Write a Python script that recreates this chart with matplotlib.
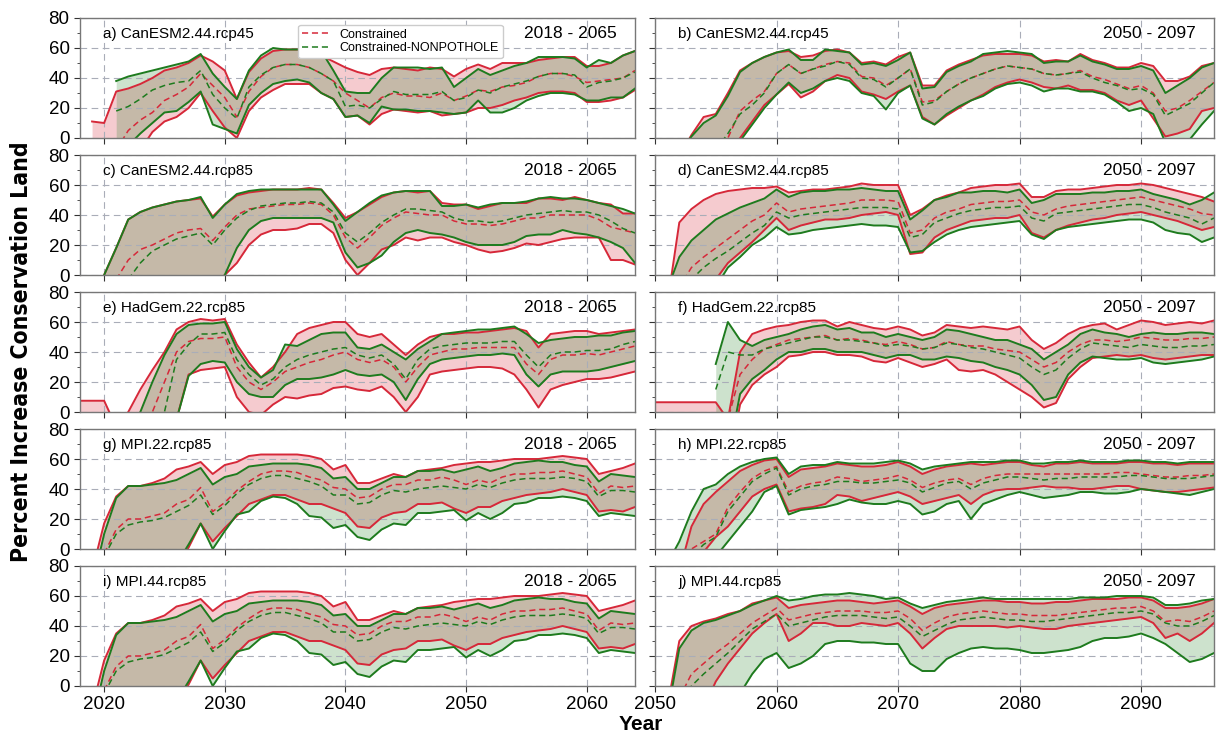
import numpy as np
import matplotlib.pyplot as plt
from matplotlib.ticker import MultipleLocator

plt.rcParams["font.family"] = ["Liberation Sans", "DejaVu Sans"]

RED = "#d62839"
GREEN = "#1e7b1e"

LEFT_YEARS = np.arange(2018, 2065)
RIGHT_YEARS = np.arange(2050, 2097)

# each series: (first year, values); negative values run below the axis
# a) CanESM2.44.rcp45, 2018 - 2065
a_red_hi = (2019, [11, 10, 31, 33, 36, 40, 45, 47, 50, 55, 51, 45, 26, 44, 53, 58, 59, 59, 58, 55, 51, 47, 44, 42, 46, 47, 46, 45, 47, 46, 41, 46, 49, 46, 50, 50, 50, 52, 53, 54, 54, 48, 48, 50, 55, 58])
a_red_md = (2021, [-8, 5, 12, 17, 25, 29, 34, 43, 35, 27, 14, 31, 41, 47, 49, 49, 47, 43, 38, 30, 25, 20, 27, 30, 28, 28, 27, 30, 25, 28, 32, 31, 34, 35, 37, 41, 43, 43, 41, 37, 38, 39, 40, 45])
a_red_lo = (2019, [-40, -40, -30, -20, -8, 4, 11, 14, 20, 30, 18, 7, 0, 18, 27, 32, 36, 36, 36, 30, 26, 14, 15, 9, 16, 19, 18, 17, 18, 15, 16, 17, 20, 20, 22, 25, 27, 30, 31, 31, 30, 24, 24, 25, 27, 32])
a_grn_hi = (2021, [38, 41, 43, 45, 47, 49, 51, 56, 43, 34, 26, 45, 55, 60, 59, 59, 59, 58, 45, 31, 30, 30, 40, 47, 47, 47, 46, 47, 34, 40, 46, 42, 45, 48, 50, 54, 54, 54, 53, 47, 52, 50, 55, 58])
a_grn_md = (2021, [18, 21, 26, 32, 35, 37, 38, 45, 29, 20, 13, 34, 42, 47, 49, 49, 47, 43, 38, 21, 22, 20, 26, 31, 29, 29, 29, 31, 25, 27, 32, 30, 34, 36, 38, 41, 43, 43, 42, 34, 37, 38, 40, 44])
a_grn_lo = (2021, [-20, -5, 3, 10, 17, 18, 24, 31, 9, 6, 3, 22, 30, 36, 38, 39, 37, 30, 26, 14, 15, 10, 21, 19, 19, 18, 18, 17, 16, 17, 25, 17, 17, 20, 25, 28, 30, 30, 29, 25, 25, 27, 27, 33])

# b) CanESM2.44.rcp45, 2050 - 2097
b_red_hi = (2052, [-12, 2, 14, 16, 30, 45, 50, 54, 57, 58, 54, 55, 58, 59, 57, 50, 51, 49, 54, 57, 35, 35, 45, 49, 52, 55, 56, 56, 56, 55, 51, 52, 51, 56, 52, 50, 47, 47, 50, 48, 38, 38, 41, 48, 50])
b_red_md = (2055, [-10, 0, 18, 25, 31, 43, 49, 43, 46, 49, 51, 50, 41, 40, 35, 40, 46, 24, 25, 31, 36, 40, 43, 46, 48, 47, 46, 43, 42, 43, 45, 41, 39, 36, 33, 35, 30, 18, 20, 25, 31, 37])
b_red_lo = (2052, [-45, -38, -30, -22, -11, 0, 11, 22, 29, 36, 27, 31, 38, 42, 40, 31, 29, 26, 31, 35, 14, 9, 15, 20, 25, 29, 34, 37, 39, 37, 34, 33, 35, 32, 32, 30, 25, 22, 25, 13, 1, 3, 6, 18, 20])
b_grn_hi = (2052, [-10, 1, 10, 15, 28, 44, 50, 54, 57, 59, 52, 52, 59, 58, 57, 49, 50, 48, 52, 57, 33, 34, 44, 48, 51, 56, 57, 58, 57, 56, 50, 51, 51, 55, 51, 49, 46, 46, 48, 45, 30, 35, 40, 47, 50])
b_grn_md = (2055, [-8, 3, 16, 22, 30, 43, 49, 43, 46, 48, 51, 49, 40, 39, 34, 40, 46, 22, 24, 31, 36, 40, 43, 46, 48, 47, 46, 43, 42, 43, 44, 40, 37, 35, 32, 33, 29, 15, 19, 23, 30, 37])
b_grn_lo = (2052, [-50, -40, -30, -22, -12, -2, 9, 20, 29, 37, 30, 33, 38, 40, 38, 30, 28, 19, 30, 35, 13, 9, 16, 21, 25, 28, 33, 36, 37, 35, 31, 33, 33, 31, 31, 29, 24, 18, 20, 16, -3, -5, -1, 9, 18])

# c) CanESM2.44.rcp85, 2018 - 2065
c_red_hi = (2019, [-20, 0, 18, 37, 42, 45, 47, 49, 50, 51, 39, 47, 53, 55, 56, 57, 57, 57, 58, 57, 48, 38, 42, 47, 52, 55, 56, 55, 56, 48, 47, 47, 44, 46, 48, 48, 48, 51, 51, 50, 52, 50, 48, 47, 41, 41])
c_red_md = (2021, [-3, 10, 17, 20, 24, 28, 30, 31, 23, 32, 40, 44, 45, 46, 47, 47, 48, 47, 40, 25, 18, 25, 33, 38, 42, 41, 40, 40, 36, 34, 34, 33, 34, 36, 38, 38, 40, 40, 40, 40, 37, 32, 30, 28])
c_red_lo = (2019, [-60, -55, -50, -45, -40, -35, -30, -25, -20, -15, -10, 0, 8, 20, 27, 30, 30, 31, 34, 34, 28, 10, 0, 8, 17, 20, 25, 23, 25, 25, 22, 20, 17, 15, 16, 18, 21, 20, 22, 24, 25, 25, 25, 10, 10, 7])
c_grn_hi = (2019, [-20, 0, 18, 37, 42, 45, 47, 49, 50, 52, 38, 47, 54, 56, 57, 57, 57, 57, 57, 57, 47, 36, 42, 48, 53, 55, 56, 56, 56, 46, 46, 47, 45, 47, 48, 48, 49, 51, 52, 51, 51, 50, 48, 46, 44, 41])
c_grn_md = (2022, [-3, 8, 16, 20, 24, 26, 28, 20, 30, 38, 43, 46, 47, 48, 48, 49, 48, 42, 28, 22, 28, 35, 40, 44, 44, 43, 42, 38, 36, 36, 35, 36, 38, 40, 41, 42, 43, 42, 42, 40, 36, 31, 28])
c_grn_lo = (2019, [-60, -55, -50, -45, -40, -35, -30, -25, -20, -15, -8, 0, 18, 30, 36, 38, 38, 38, 38, 38, 35, 15, 5, 8, 13, 22, 28, 30, 28, 27, 25, 22, 20, 20, 20, 22, 26, 27, 27, 30, 28, 27, 25, 22, 18, 8])

# d) CanESM2.44.rcp85, 2050 - 2097
d_red_hi = (2051, [-20, 35, 44, 50, 54, 56, 57, 58, 58, 59, 55, 56, 57, 57, 58, 59, 61, 60, 60, 60, 40, 44, 50, 53, 55, 58, 59, 60, 60, 61, 52, 52, 56, 57, 57, 58, 59, 60, 60, 61, 60, 58, 56, 54, 52, 49])
d_red_md = (2051, [-20, -8, 5, 12, 18, 24, 30, 36, 40, 48, 42, 44, 45, 46, 47, 48, 50, 50, 50, 49, 28, 30, 38, 42, 44, 47, 48, 49, 49, 50, 42, 40, 44, 46, 47, 48, 49, 50, 51, 52, 50, 48, 46, 44, 41, 40])
d_red_lo = (2051, [-50, -40, -30, -15, -3, 8, 15, 22, 30, 38, 30, 33, 35, 37, 37, 38, 40, 41, 42, 40, 14, 15, 25, 30, 33, 36, 37, 38, 38, 40, 28, 25, 30, 33, 35, 37, 38, 40, 41, 42, 40, 38, 36, 33, 30, 32])
d_grn_hi = (2051, [-10, 12, 23, 30, 37, 41, 45, 48, 51, 57, 52, 55, 56, 56, 57, 57, 58, 57, 56, 56, 37, 43, 50, 52, 55, 55, 56, 56, 55, 57, 48, 50, 54, 54, 54, 55, 55, 56, 56, 57, 54, 52, 50, 47, 50, 55])
d_grn_md = (2051, [-25, -12, -3, 5, 11, 16, 22, 28, 33, 42, 38, 40, 41, 42, 43, 44, 45, 45, 45, 44, 25, 27, 35, 38, 41, 43, 44, 45, 45, 46, 38, 36, 41, 42, 43, 44, 45, 46, 47, 47, 45, 42, 40, 38, 34, 38])
d_grn_lo = (2051, [-55, -45, -35, -20, -8, 5, 12, 20, 25, 32, 27, 28, 30, 31, 32, 33, 34, 33, 33, 32, 15, 16, 22, 27, 30, 32, 33, 34, 35, 36, 27, 24, 30, 32, 33, 34, 35, 36, 37, 37, 35, 30, 28, 27, 22, 25])

# e) HadGem.22.rcp85, 2018 - 2065
e_red_hi = (2018, [7.5, 7.5, 7.5, -10, 0, 15, 28, 40, 55, 60, 62, 61, 62, 45, 33, 23, 30, 40, 52, 56, 58, 60, 60, 52, 50, 52, 45, 38, 45, 50, 52, 52, 53, 53, 54, 55, 56, 54, 43, 52, 53, 54, 54, 52, 53, 54, 55])
e_red_md = (2023, [-10, 0, 20, 40, 47, 49, 49, 50, 30, 20, 15, 20, 27, 30, 33, 35, 38, 40, 35, 33, 35, 30, 20, 30, 38, 40, 42, 42, 43, 43, 43, 43, 32, 25, 35, 38, 38, 39, 38, 40, 42, 44])
e_red_lo = (2018, [-20, -20, -20, -40, -35, -30, -25, -15, -5, 25, 28, 29, 30, 10, 0, -2, 5, 10, 9, 11, 12, 16, 17, 15, 14, 17, 10, 0, 10, 25, 27, 28, 29, 30, 30, 29, 25, 15, 3, 15, 18, 20, 22, 22, 23, 25, 27])
e_grn_hi = (2022, [-15, 0, 20, 38, 52, 58, 59, 59, 60, 42, 30, 23, 28, 45, 44, 48, 52, 53, 53, 43, 42, 45, 40, 35, 42, 47, 52, 53, 54, 55, 55, 56, 57, 52, 46, 48, 49, 50, 50, 51, 51, 53, 54])
e_grn_md = (2024, [-10, 0, 35, 45, 52, 52, 53, 35, 25, 18, 22, 30, 35, 38, 40, 42, 43, 38, 36, 38, 32, 22, 35, 42, 44, 45, 46, 46, 46, 47, 47, 38, 30, 38, 40, 40, 41, 41, 42, 45, 47])
e_grn_lo = (2022, [-60, -45, -30, -18, -5, 24, 32, 34, 33, 20, 12, 10, 10, 18, 22, 22, 23, 25, 28, 25, 24, 25, 20, 8, 22, 32, 35, 36, 37, 38, 38, 39, 38, 25, 17, 25, 27, 27, 27, 28, 30, 32, 34])

# f) HadGem.22.rcp85, 2050 - 2097
f_red_hi = (2050, [6.5, 6.5, 6.5, 6.5, 6.5, 6.5, -5, 40, 52, 55, 57, 58, 60, 61, 61, 57, 60, 58, 56, 55, 57, 55, 51, 53, 58, 57, 56, 57, 56, 55, 57, 48, 42, 46, 52, 56, 58, 59, 55, 58, 61, 60, 58, 59, 60, 59, 61])
f_red_md = (2055, [-20, -5, 25, 35, 42, 45, 48, 49, 50, 51, 48, 49, 48, 46, 45, 47, 45, 42, 43, 47, 45, 44, 44, 42, 41, 40, 35, 30, 33, 40, 45, 48, 48, 47, 48, 50, 49, 48, 48, 49, 49, 50])
f_red_lo = (2050, [-20, -20, -20, -20, -20, -20, -40, 5, 18, 25, 30, 37, 38, 40, 40, 38, 38, 37, 34, 33, 36, 33, 30, 32, 35, 28, 27, 28, 25, 20, 15, 10, 3, 6, 22, 30, 36, 37, 38, 37, 38, 36, 35, 36, 37, 38, 38])
f_grn_hi = (2055, [32, 60, 48, 44, 48, 50, 52, 55, 57, 58, 55, 56, 53, 53, 50, 52, 50, 48, 50, 55, 54, 52, 50, 48, 48, 45, 42, 35, 40, 45, 52, 55, 53, 52, 50, 52, 53, 52, 52, 53, 53, 52])
f_grn_md = (2055, [15, 40, 38, 38, 42, 44, 46, 48, 50, 50, 48, 48, 47, 46, 44, 45, 44, 42, 43, 46, 45, 43, 42, 40, 38, 36, 30, 25, 28, 36, 42, 46, 45, 44, 43, 45, 44, 43, 43, 44, 44, 45])
f_grn_lo = (2055, [-5, -30, 12, 22, 28, 35, 40, 40, 42, 42, 40, 40, 40, 38, 36, 38, 38, 35, 35, 37, 36, 34, 33, 30, 28, 25, 18, 8, 10, 25, 33, 37, 36, 35, 35, 36, 33, 32, 33, 34, 35, 37])

# g) MPI.22.rcp85 and i) MPI.44.rcp85, 2018 - 2065 (same curves)
mpi_red_hi = (2019, [-15, 17, 35, 42, 42, 44, 47, 53, 55, 58, 50, 56, 58, 62, 63, 63, 63, 63, 62, 60, 53, 56, 44, 44, 47, 50, 48, 52, 53, 54, 56, 57, 58, 58, 59, 60, 60, 60, 61, 62, 61, 60, 50, 52, 54, 57])
mpi_red_md = (2020, [-3, 13, 20, 20, 22, 24, 30, 33, 41, 25, 31, 39, 45, 50, 52, 52, 51, 48, 46, 41, 40, 34, 35, 40, 43, 43, 46, 46, 48, 46, 43, 46, 44, 48, 50, 50, 51, 51, 52, 50, 48, 37, 42, 41, 42])
mpi_red_lo = (2019, [-60, -55, -50, -45, -40, -30, -20, -12, 1, 17, 5, 14, 22, 30, 33, 36, 36, 33, 30, 30, 27, 24, 15, 14, 21, 24, 25, 30, 30, 31, 27, 24, 28, 28, 32, 34, 36, 37, 38, 40, 38, 36, 25, 26, 25, 28])
mpi_grn_hi = (2019, [-25, 10, 34, 42, 42, 43, 44, 46, 50, 54, 43, 48, 50, 55, 56, 57, 57, 57, 56, 54, 47, 48, 40, 40, 44, 48, 48, 52, 52, 53, 51, 53, 55, 52, 54, 57, 58, 59, 58, 58, 56, 55, 45, 50, 49, 48])
mpi_grn_md = (2020, [-5, 10, 16, 18, 19, 21, 25, 29, 36, 23, 29, 37, 43, 47, 49, 49, 47, 45, 42, 36, 36, 30, 31, 36, 39, 38, 40, 41, 42, 41, 40, 43, 41, 44, 46, 47, 47, 47, 48, 47, 45, 35, 39, 39, 38])
mpi_grn_lo = (2019, [-60, -55, -50, -45, -40, -30, -20, -10, 3, 17, 0, 12, 23, 25, 32, 35, 34, 30, 22, 21, 14, 16, 8, 6, 13, 17, 16, 24, 24, 25, 26, 19, 24, 20, 24, 30, 31, 34, 34, 35, 34, 32, 22, 24, 23, 22])

# h) MPI.22.rcp85, 2050 - 2097
h_red_hi = (2052, [-15, 15, 30, 38, 45, 52, 56, 59, 60, 48, 53, 54, 55, 57, 56, 55, 55, 56, 58, 55, 50, 53, 55, 56, 57, 56, 57, 58, 58, 56, 55, 57, 57, 58, 57, 57, 57, 58, 58, 57, 57, 56, 57, 57, 57])
h_red_md = (2052, [-10, 0, 5, 10, 28, 38, 47, 52, 55, 38, 42, 44, 45, 48, 47, 45, 46, 47, 49, 46, 41, 44, 46, 47, 43, 47, 49, 50, 50, 50, 50, 50, 50, 50, 50, 50, 51, 51, 50, 49, 48, 48, 49, 49, 50])
h_red_lo = (2052, [-40, -25, -2, 8, 15, 25, 35, 40, 43, 25, 27, 28, 30, 36, 35, 32, 34, 36, 38, 35, 30, 32, 34, 36, 30, 36, 39, 40, 40, 41, 42, 41, 41, 40, 40, 41, 42, 42, 40, 39, 38, 38, 39, 40, 41])
h_grn_hi = (2051, [-10, 5, 25, 40, 43, 50, 55, 58, 60, 61, 50, 55, 56, 56, 58, 57, 57, 57, 58, 59, 57, 53, 55, 56, 57, 58, 58, 58, 59, 59, 57, 57, 58, 58, 59, 58, 58, 58, 59, 59, 58, 58, 57, 58, 58, 58])
h_grn_md = (2052, [-12, -5, 3, 8, 25, 35, 45, 50, 54, 36, 40, 42, 43, 45, 45, 44, 44, 45, 46, 44, 38, 41, 44, 45, 40, 44, 46, 48, 48, 47, 46, 47, 47, 48, 48, 48, 48, 49, 49, 48, 47, 47, 47, 48, 49])
h_grn_lo = (2051, [-60, -45, -30, -15, -5, 5, 15, 25, 38, 42, 23, 26, 27, 28, 30, 33, 31, 30, 30, 32, 30, 23, 25, 30, 32, 20, 30, 33, 36, 38, 36, 34, 35, 36, 38, 38, 37, 37, 38, 40, 39, 38, 37, 36, 38, 40])

# j) MPI.44.rcp85, 2050 - 2097
j_red_hi = (2051, [-15, 30, 40, 43, 45, 48, 50, 55, 57, 59, 52, 54, 55, 56, 57, 57, 56, 55, 56, 57, 53, 48, 52, 54, 55, 56, 57, 57, 56, 56, 55, 55, 56, 56, 57, 58, 58, 58, 59, 59, 57, 52, 52, 53, 55, 58])
j_red_md = (2052, [-8, 8, 15, 22, 28, 35, 42, 47, 52, 44, 46, 48, 49, 50, 50, 50, 49, 49, 50, 45, 37, 42, 46, 48, 49, 50, 49, 48, 48, 47, 47, 47, 48, 49, 50, 51, 52, 52, 53, 50, 43, 44, 43, 46, 50])
j_red_lo = (2051, [-60, -45, -30, -15, 3, 15, 25, 35, 42, 48, 30, 35, 42, 42, 40, 40, 42, 41, 40, 42, 35, 25, 32, 38, 40, 40, 40, 40, 39, 40, 39, 38, 38, 40, 41, 42, 43, 44, 45, 46, 42, 32, 35, 30, 35, 42])
j_grn_hi = (2051, [-20, 25, 37, 42, 44, 47, 50, 54, 57, 60, 57, 58, 60, 61, 61, 62, 61, 60, 58, 59, 55, 52, 54, 56, 57, 58, 59, 58, 58, 58, 58, 58, 58, 58, 59, 59, 59, 60, 60, 60, 59, 54, 54, 55, 57, 58])
j_grn_md = (2052, [-15, 0, 8, 15, 22, 30, 38, 43, 48, 40, 42, 44, 46, 47, 47, 47, 46, 45, 46, 40, 33, 37, 41, 44, 45, 46, 45, 44, 44, 43, 43, 44, 45, 46, 47, 48, 49, 49, 50, 48, 42, 40, 40, 43, 47])
j_grn_lo = (2051, [-80, -70, -55, -40, -25, -15, -5, 8, 18, 22, 12, 15, 20, 28, 30, 30, 29, 29, 28, 28, 15, 10, 10, 18, 22, 25, 26, 25, 25, 24, 22, 22, 23, 24, 26, 30, 32, 32, 33, 35, 32, 28, 22, 16, 18, 22])


def full(spec, years):
    start, vals = spec
    arr = np.full(len(years), np.nan)
    i = start - years[0]
    arr[i:i + len(vals)] = vals
    return arr


fig = plt.figure(figsize=(12.16, 7.38), dpi=100)

W, H = 1216, 738
col_x = [80, 655]
col_w = [555, 559]
row_top = [18, 155, 292, 429, 566]
row_h = 120

panels = [
    ("a) CanESM2.44.rcp45", (a_red_hi, a_red_md, a_red_lo), (a_grn_hi, a_grn_md, a_grn_lo)),
    ("b) CanESM2.44.rcp45", (b_red_hi, b_red_md, b_red_lo), (b_grn_hi, b_grn_md, b_grn_lo)),
    ("c) CanESM2.44.rcp85", (c_red_hi, c_red_md, c_red_lo), (c_grn_hi, c_grn_md, c_grn_lo)),
    ("d) CanESM2.44.rcp85", (d_red_hi, d_red_md, d_red_lo), (d_grn_hi, d_grn_md, d_grn_lo)),
    ("e) HadGem.22.rcp85", (e_red_hi, e_red_md, e_red_lo), (e_grn_hi, e_grn_md, e_grn_lo)),
    ("f) HadGem.22.rcp85", (f_red_hi, f_red_md, f_red_lo), (f_grn_hi, f_grn_md, f_grn_lo)),
    ("g) MPI.22.rcp85", (mpi_red_hi, mpi_red_md, mpi_red_lo), (mpi_grn_hi, mpi_grn_md, mpi_grn_lo)),
    ("h) MPI.22.rcp85", (h_red_hi, h_red_md, h_red_lo), (h_grn_hi, h_grn_md, h_grn_lo)),
    ("i) MPI.44.rcp85", (mpi_red_hi, mpi_red_md, mpi_red_lo), (mpi_grn_hi, mpi_grn_md, mpi_grn_lo)),
    ("j) MPI.44.rcp85", (j_red_hi, j_red_md, j_red_lo), (j_grn_hi, j_grn_md, j_grn_lo)),
]

for k, (label, red, grn) in enumerate(panels):
    row, col = divmod(k, 2)
    x0 = col_x[col] / W
    y0 = 1 - (row_top[row] + row_h) / H
    ax = fig.add_axes([x0, y0, col_w[col] / W, row_h / H])

    years = LEFT_YEARS if col == 0 else RIGHT_YEARS
    period = "2018 - 2065" if col == 0 else "2050 - 2097"

    r_hi, r_md, r_lo = [full(s, years) for s in red]
    g_hi, g_md, g_lo = [full(s, years) for s in grn]

    ax.fill_between(years, r_lo, r_hi, color=RED, alpha=0.24, lw=0)
    ax.fill_between(years, g_lo, g_hi, color=GREEN, alpha=0.22, lw=0)

    ax.plot(years, r_hi, color=RED, lw=1.4)
    ax.plot(years, r_lo, color=RED, lw=1.4)
    h1, = ax.plot(years, r_md, color=RED, lw=1.1, ls=(0, (4, 2.5)), label="Constrained")
    ax.plot(years, g_hi, color=GREEN, lw=1.4)
    ax.plot(years, g_lo, color=GREEN, lw=1.4)
    h2, = ax.plot(years, g_md, color=GREEN, lw=1.1, ls=(0, (4, 2.5)), label="Constrained-NONPOTHOLE")

    ax.set_xlim(years[0], years[-1])
    ax.set_ylim(0, 80)
    ax.xaxis.set_major_locator(MultipleLocator(10))
    ax.yaxis.set_major_locator(MultipleLocator(20))
    ax.yaxis.set_minor_locator(MultipleLocator(10))
    ax.grid(True, which="major", ls=(0, (6, 4)), color="#a9adb8", lw=0.8)
    ax.tick_params(axis="both", which="major", direction="out", length=4, labelsize=13.5, color="#333333")
    ax.tick_params(axis="y", which="minor", direction="out", length=2, color="#333333")
    for sp in ax.spines.values():
        sp.set_color("#777777")
        sp.set_linewidth(1.0)
    if row < 4:
        ax.tick_params(axis="x", labelbottom=False)
    if col == 1:
        ax.tick_params(axis="y", labelleft=False)

    ax.text(0.042, 0.87, label, transform=ax.transAxes, fontsize=11, va="center", ha="left")
    ax.text(0.968, 0.87, period, transform=ax.transAxes, fontsize=12.5, va="center", ha="right")

    if k == 0:
        ax.legend(handles=[h1, h2], loc="upper left", bbox_to_anchor=(0.382, 0.995),
                  fontsize=9, handlelength=2.2, borderpad=0.3, labelspacing=0.15,
                  framealpha=1, edgecolor="#cccccc")

fig.text(0.018, 0.523, "Percent Increase Conservation Land", rotation=90,
         ha="center", va="center", fontsize=16.5, fontweight="bold",
         family=["DejaVu Sans"], fontstretch="condensed")
fig.text(0.527, 0.018, "Year", ha="center", va="center", fontsize=15, fontweight="bold")

fig.savefig("out.png", dpi=100)
